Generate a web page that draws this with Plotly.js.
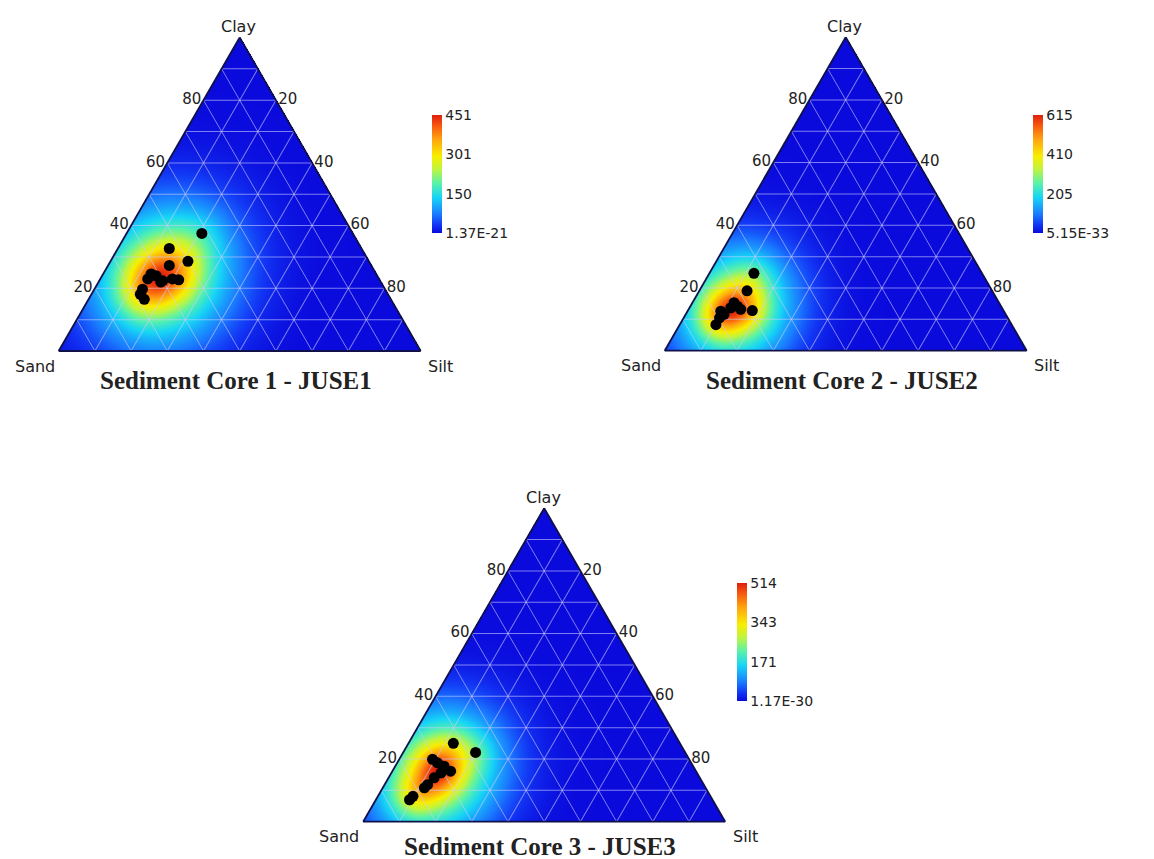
<!DOCTYPE html>
<html><head><meta charset="utf-8">
<script src="https://cdn.plot.ly/plotly-3.0.1.min.js"></script>
<style>html,body{margin:0;padding:0;background:#fff;}#chart{width:1154px;height:859px;}</style>
</head><body><div id="chart"></div>
<script>
// ---- data (percent) ----
const core1Clay = [37.5, 32.7, 28.6, 27.3, 24.6, 23.0, 24.0, 22.4, 23.0, 19.7, 18.1, 16.5, 22.0, 22.7];
const core1Silt = [20.8, 14.2, 21.4, 16.9, 13.2, 13.1, 14.9, 17.5, 19.9, 13.3, 13.5, 15.4, 17.2, 21.8];
const core1Sand = [41.7, 53.1, 50.0, 55.8, 62.2, 63.9, 61.1, 60.1, 57.1, 67.0, 68.4, 68.1, 60.8, 55.5];

const core2Clay = [24.7, 19.1, 15.3, 14.2, 13.7, 12.8, 12.6, 10.5, 11.6, 8.3, 13.2];
const core2Silt = [12.3, 13.2, 11.5, 13.0, 11.4, 17.8, 9.2, 9.9, 10.6, 10.0, 14.4];
const core2Sand = [63.0, 67.7, 73.2, 72.8, 74.9, 69.4, 78.2, 79.6, 77.8, 81.7, 72.4];

const core3Clay = [25.0, 22.1, 19.9, 18.8, 17.7, 16.1, 15.6, 14.0, 11.8, 10.8, 8.1, 7.0];
const core3Silt = [12.4, 20.0, 9.2, 11.1, 13.5, 16.1, 13.7, 12.6, 11.9, 11.5, 9.7, 9.3];
const core3Sand = [62.6, 57.9, 70.9, 70.1, 68.8, 67.8, 70.7, 73.4, 76.3, 77.7, 82.2, 83.7];

const cb1Vals = [1.37e-21, 150, 301, 451];
const cb1Text = ['1.37E-21', '150', '301', '451'];
const cb2Vals = [5.15e-33, 205, 410, 615];
const cb2Text = ['5.15E-33', '205', '410', '615'];
const cb3Vals = [1.17e-30, 171, 343, 514];
const cb3Text = ['1.17E-30', '171', '343', '514'];

const panelTitles = ['Sediment Core 1 - JUSE1', 'Sediment Core 2 - JUSE2', 'Sediment Core 3 - JUSE3'];
const axisTickVals = [10, 20, 30, 40, 50, 60, 70, 80, 90];
const axisTickText = ['', '20', '', '40', '', '60', '', '80', ''];

// ---- geometry ----
const GW = 1154, GH = 859;
const S3 = Math.sqrt(3) / 2;
const TW = 362, TH = TW * S3;
const panels = [
  {cx: 239.7, base: 351.0, cbx: 432, cby: 174, ty: 381, clay: core1Clay, silt: core1Silt, sand: core1Sand, s1: 0.05, s2: 0.13, w1: 0.55, cbv: cb1Vals, cbt: cb1Text},
  {cx: 845.7, base: 350.7, cbx: 1033, cby: 174, ty: 381, clay: core2Clay, silt: core2Silt, sand: core2Sand, s1: 0.042, s2: 0.11, w1: 0.55, cbv: cb2Vals, cbt: cb2Text},
  {cx: 544.2, base: 821.7, cbx: 737, cby: 642, ty: 846, clay: core3Clay, silt: core3Silt, sand: core3Sand, s1: 0.042, s2: 0.115, w1: 0.55, cbv: cb3Vals, cbt: cb3Text}
];

const jet = [
  [0, '#0a0adc'], [0.07, '#1236f4'], [0.16, '#1a7cff'], [0.3, '#16d4f6'],
  [0.42, '#58f2aa'], [0.54, '#c0f440'], [0.65, '#f8ee00'], [0.8, '#ffa010'],
  [0.92, '#f6520e'], [1, '#de1e0e']
];

function density(clay, silt, s1, s2, w1, zmax) {
  const nx = 362, ny = Math.round(nx * S3);
  const px = clay.map((c, i) => silt[i] / 100 + c / 200);
  const py = clay.map(c => c / 100 * S3);
  const xs = [], ys = [], z = [];
  for (let i = 0; i < nx; i++) xs.push((i + 0.5) / nx);
  for (let j = 0; j < ny; j++) ys.push((j + 0.5) / ny * S3);
  let mx = 0;
  const a1 = 2 * s1 * s1, a2 = 2 * s2 * s2;
  for (let j = 0; j < ny; j++) {
    const row = [];
    const y = ys[j];
    for (let i = 0; i < nx; i++) {
      const x = xs[i];
      if (y > 2 * S3 * x + 0.002 || y > 2 * S3 * (1 - x) + 0.002) { row.push(null); continue; }
      let s = 0;
      for (let k = 0; k < px.length; k++) {
        const dx = x - px[k], dy = y - py[k];
        const r2 = dx * dx + dy * dy;
        s += w1 * Math.exp(-r2 / a1) + (1 - w1) * Math.exp(-r2 / a2);
      }
      if (s > mx) mx = s;
      row.push(s);
    }
    z.push(row);
  }
  for (const row of z) for (let i = 0; i < row.length; i++) if (row[i] !== null) row[i] = row[i] / mx * zmax;
  return {x: xs, y: ys, z: z};
}

const FONT = 'DejaVu Sans, Verdana, sans-serif';
const traces = [];
const layout = {
  width: GW, height: GH, margin: {l: 0, r: 0, t: 0, b: 0},
  paper_bgcolor: '#fff', plot_bgcolor: 'rgba(0,0,0,0)', showlegend: false,
  annotations: []
};
const gridCol = 'rgba(205,205,255,0.6)';
const lineCol = '#10104a';

panels.forEach((p, k) => {
  const n = k === 0 ? '' : String(k + 1);
  const xd = [(p.cx - TW / 2) / GW, (p.cx + TW / 2) / GW];
  const yd = [1 - p.base / GH, 1 - (p.base - TH) / GH];
  const d = density(p.clay, p.silt, p.s1, p.s2, p.w1, p.cbv[3]);
  traces.push({
    type: 'heatmap', x: d.x, y: d.y, z: d.z, xaxis: 'x' + n, yaxis: 'y' + n,
    colorscale: jet, zmin: p.cbv[0], zmax: p.cbv[3], zsmooth: false, hoverinfo: 'skip',
    colorbar: {
      x: p.cbx / GW, xanchor: 'left', y: 1 - p.cby / GH, yanchor: 'middle',
      len: 118, lenmode: 'pixels', thickness: 10, thicknessmode: 'pixels',
      xpad: 0, ypad: 0, outlinewidth: 0, ticks: '',
      tickmode: 'array', tickvals: p.cbv, ticktext: p.cbt,
      tickfont: {family: FONT, size: 14, color: '#222'}
    }
  });
  layout['xaxis' + n] = {domain: xd, range: [0, 1], visible: false, fixedrange: true, anchor: 'y' + n};
  layout['yaxis' + n] = {domain: yd, range: [0, S3], visible: false, fixedrange: true, anchor: 'x' + n};
  const ax = (show) => ({
    title: {text: ''}, min: 0, tickmode: 'array', tickvals: axisTickVals, ticktext: axisTickText,
    showticklabels: show, ticks: '', showgrid: true, gridcolor: gridCol, gridwidth: 1,
    showline: true, linecolor: lineCol, linewidth: 1.8,
    tickfont: {family: FONT, size: 15, color: '#222'}
  });
  layout['ternary' + n] = {
    domain: {x: xd, y: yd}, sum: 100, bgcolor: 'rgba(0,0,0,0)',
    aaxis: ax(true), baxis: ax(false), caxis: ax(true)
  };
  traces.push({
    type: 'scatterternary', subplot: 'ternary' + n, mode: 'markers',
    a: p.clay, b: p.sand, c: p.silt,
    marker: {size: 11, color: '#000', line: {width: 0}}, hoverinfo: 'a+b+c'
  });
  const left = p.cx - TW / 2, right = p.cx + TW / 2, top = p.base - TH;
  const A = (text, x, y, font) => layout.annotations.push({
    text: text, x: x / GW, y: 1 - y / GH, xref: 'paper', yref: 'paper',
    showarrow: false, xanchor: 'center', yanchor: 'middle', font: font
  });
  const lf = {family: FONT, size: 16, color: '#222'};
  A('Clay', p.cx - 1, top - 11, lf);
  A('Sand', left - 24, p.base + 15, lf);
  A('Silt', right + 20, p.base + 15, lf);
  A('<b>' + panelTitles[k] + '</b>', p.cx - 4, p.ty,
    {family: 'Liberation Serif, Times New Roman, serif', size: 25, color: '#222'});
});

Plotly.newPlot('chart', traces, layout, {staticPlot: true, displayModeBar: false});
</script>
</body></html>
